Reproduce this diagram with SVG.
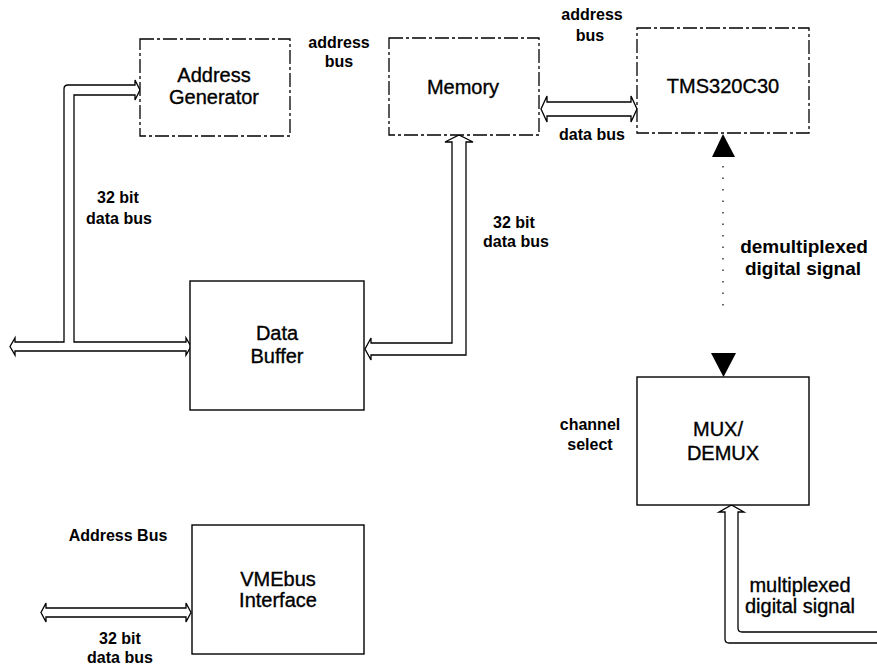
<svg xmlns="http://www.w3.org/2000/svg" width="877" height="669" viewBox="0 0 877 669">
<style>
  .box{fill:#fff;stroke:#000;stroke-width:1.4}
  .dbox{fill:#fff;stroke:#000;stroke-width:1.3;stroke-dasharray:14 3 3 3}
  .bus{fill:none;stroke:#000;stroke-width:1.3;stroke-linejoin:miter}
  .big{font-family:"Liberation Sans",Arial,sans-serif;font-size:20px;fill:#000;stroke:#000;stroke-width:0.35;text-anchor:middle}
  .lbl{font-family:"Liberation Sans",Arial,sans-serif;font-size:16px;font-weight:bold;fill:#000;text-anchor:middle}
  .sig{font-family:"Liberation Sans",Arial,sans-serif;font-size:19px;font-weight:bold;fill:#000;text-anchor:middle}
  .sig2{font-family:"Liberation Sans",Arial,sans-serif;font-size:20px;fill:#000;stroke:#000;stroke-width:0.35;text-anchor:middle}
</style>
<rect width="877" height="669" fill="#fff"/>
<g id="connectors">
  <path class="bus" d="M135 85 L135 80 L140 90 L135 100 L135 95 L74 95 L74 342 L186 342 L186 338 L191 346.5 L186 355 L186 351 L15 351 L15 355 L10 346.5 L15 338 L15 342 L64 342 L64 89 Q64 85 68 85 Z"/>
  <path class="bus" d="M452 142 L445 142 L459 135 L473 142 L466 142 L466 355 L371 355 L371 360 L365 349 L371 338 L371 343 L452 343 Z"/>
  <path class="bus" d="M547 102 L547 96 L541 109 L547 122 L547 116 L631 116 L631 122 L637 109 L631 96 L631 102 Z"/>
  <path d="M723 134 L712 157 L735 157 Z" fill="#000"/>
  <line x1="723" y1="166" x2="723" y2="306" stroke="#000" stroke-width="1.2" stroke-dasharray="1.5 10"/>
  <path d="M711 353 L736 353 L723.5 377 Z" fill="#000"/>
  <path class="bus" d="M877 632 L742 632 Q738 632 738 628 L738 512 L744 512 L731.5 505 L719 512 L725 512 L725 639 Q725 643 729 643 L877 643"/>
  <path class="bus" d="M46 608 L46 603 L41 612.5 L46 622 L46 617 L186 617 L186 622 L191 612.5 L186 603 L186 608 Z"/>
</g>
<g id="address-generator">
  <rect class="dbox" x="140" y="39" width="150" height="97"/>
  <text class="big" x="214" y="82">Address</text>
  <text class="big" x="214" y="104">Generator</text>
</g>
<g id="memory">
  <rect class="dbox" x="389" y="38" width="150" height="97"/>
  <text class="big" x="463" y="94">Memory</text>
</g>
<g id="tms320c30">
  <rect class="dbox" x="637" y="28" width="172" height="105"/>
  <text class="big" x="723" y="93">TMS320C30</text>
</g>
<g id="data-buffer">
  <rect class="box" x="190" y="281" width="174" height="129"/>
  <text class="big" x="277" y="340">Data</text>
  <text class="big" x="277" y="363">Buffer</text>
</g>
<g id="mux-demux">
  <rect class="box" x="637" y="377" width="172" height="128"/>
  <text class="big" x="718" y="436">MUX/</text>
  <text class="big" x="723" y="460">DEMUX</text>
</g>
<g id="vmebus-interface">
  <rect class="box" x="192" y="525" width="172" height="129"/>
  <text class="big" x="278" y="586">VMEbus</text>
  <text class="big" x="278" y="607">Interface</text>
</g>
<g id="labels">
  <text class="lbl" x="339" y="48">address</text>
  <text class="lbl" x="339" y="67">bus</text>
  <text class="lbl" x="592" y="20">address</text>
  <text class="lbl" x="590" y="41">bus</text>
  <text class="lbl" x="592" y="140">data bus</text>
  <text class="lbl" x="118" y="203">32 bit</text>
  <text class="lbl" x="119" y="224">data bus</text>
  <text class="lbl" x="514" y="228">32 bit</text>
  <text class="lbl" x="516" y="247">data bus</text>
  <text class="sig" x="804" y="253">demultiplexed</text>
  <text class="sig" x="803" y="275">digital signal</text>
  <text class="lbl" x="590" y="430">channel</text>
  <text class="lbl" x="590" y="450">select</text>
  <text class="sig2" x="800" y="592">multiplexed</text>
  <text class="sig2" x="800" y="613">digital signal</text>
  <text class="lbl" x="118" y="541">Address Bus</text>
  <text class="lbl" x="120" y="644">32 bit</text>
  <text class="lbl" x="120" y="663">data bus</text>
</g>
</svg>
